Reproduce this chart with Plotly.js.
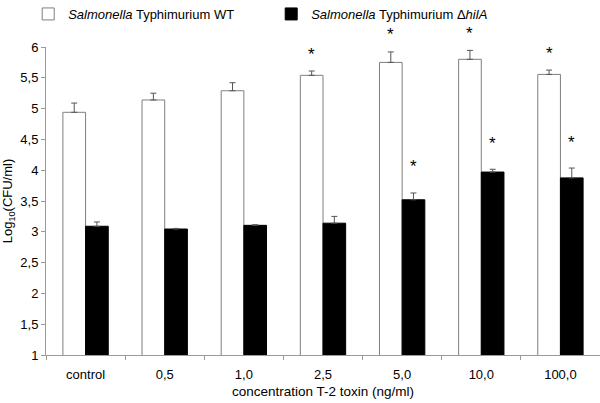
<!DOCTYPE html>
<html>
<head>
<meta charset="utf-8">
<script src="https://cdn.plot.ly/plotly-3.0.1.min.js"></script>
<style>html,body{margin:0;padding:0;background:#fff;}#chart{width:600px;height:403px;}</style>
</head>
<body>
<div id="chart"></div>
<script>
const categories = ["control", "0,5", "1,0", "2,5", "5,0", "10,0", "100,0"];
const wtValues   = [4.94, 5.14, 5.29, 5.54, 5.75, 5.80, 5.555];
const wtErrors   = [0.15, 0.11, 0.13, 0.07, 0.17, 0.145, 0.07];
const hilValues  = [3.09, 3.045, 3.105, 3.14, 3.52, 3.97, 3.875];
const hilErrors  = [0.07, 0.01, 0.01, 0.11, 0.11, 0.045, 0.16];
const wtSignif   = [false, false, false, true, true, true, true];
const hilSignif  = [false, false, false, false, true, true, true];

const font = "Liberation Sans, Arial, sans-serif";
const yRange = [1, 6];
const toPaper = v => (v - yRange[0]) / (yRange[1] - yRange[0]);

const traces = [
  {
    type: "bar", name: "<i>Salmonella</i> Typhimurium WT",
    x: categories, y: wtValues,
    marker: {color: "#ffffff", line: {color: "#7f7f7f", width: 1}},
    error_y: {type: "data", array: wtErrors, arrayminus: wtErrors.map(() => 0), symmetric: false,
              color: "#555555", thickness: 1, width: 3}
  },
  {
    type: "bar", name: "<i>Salmonella</i> Typhimurium Δ<i>hilA</i>",
    x: categories, y: hilValues,
    marker: {color: "#000000", line: {color: "#000000", width: 1}},
    error_y: {type: "data", array: hilErrors, arrayminus: hilErrors.map(() => 0), symmetric: false,
              color: "#555555", thickness: 1, width: 3}
  }
];

const annotations = [];
categories.forEach((c, i) => {
  if (wtSignif[i]) annotations.push({x: c, y: toPaper(wtValues[i] + wtErrors[i]), xref: "x", yref: "paper",
    yanchor: "middle", yshift: 17, text: "*", showarrow: false, xshift: -11.3,
    font: {family: font, size: 17, color: "#000"}});
  if (hilSignif[i]) annotations.push({x: c, y: toPaper(hilValues[i] + hilErrors[i]), xref: "x", yref: "paper",
    yanchor: "middle", yshift: 26, text: "*", showarrow: false, xshift: 11.3,
    font: {family: font, size: 17, color: "#000"}});
});

const layout = {
  width: 600, height: 403,
  margin: {l: 46, r: 0, t: 47, b: 48, pad: 0, autoexpand: false},
  paper_bgcolor: "#fff", plot_bgcolor: "#fff",
  separators: ", ",
  barmode: "group", bargap: 0.427, bargroupgap: 0,
  font: {family: font, size: 13, color: "#000"},
  showlegend: true,
  legend: {orientation: "h", x: 0.047, y: 1 - 14 / 403, xref: "container", yref: "container",
           xanchor: "left", yanchor: "middle",
           entrywidth: 198, entrywidthmode: "pixels", font: {family: font, size: 13},
           bgcolor: "rgba(0,0,0,0)", itemwidth: 30},
  xaxis: {type: "category", showline: true, linecolor: "#9a9a9a", linewidth: 1,
          ticks: "outside", tickson: "boundaries", ticklen: 4, tickcolor: "#9a9a9a",
          showgrid: false, zeroline: false, tickfont: {size: 13}, ticklabelstandoff: 7,
          title: {text: "concentration T-2 toxin (ng/ml)", font: {size: 13.5}, standoff: 5}},
  yaxis: {range: yRange, dtick: 0.5, tick0: 1, showline: true, linecolor: "#9a9a9a", linewidth: 1,
          ticks: "outside", ticklen: 4, tickcolor: "#9a9a9a", showgrid: false, zeroline: false,
          tickfont: {size: 13},
          title: {text: "Log<sub>10</sub>(CFU/ml)", font: {size: 13}, standoff: 6}},
  annotations: annotations
};

Plotly.newPlot("chart", traces, layout, {displayModeBar: false, staticPlot: true});
</script>
</body>
</html>
